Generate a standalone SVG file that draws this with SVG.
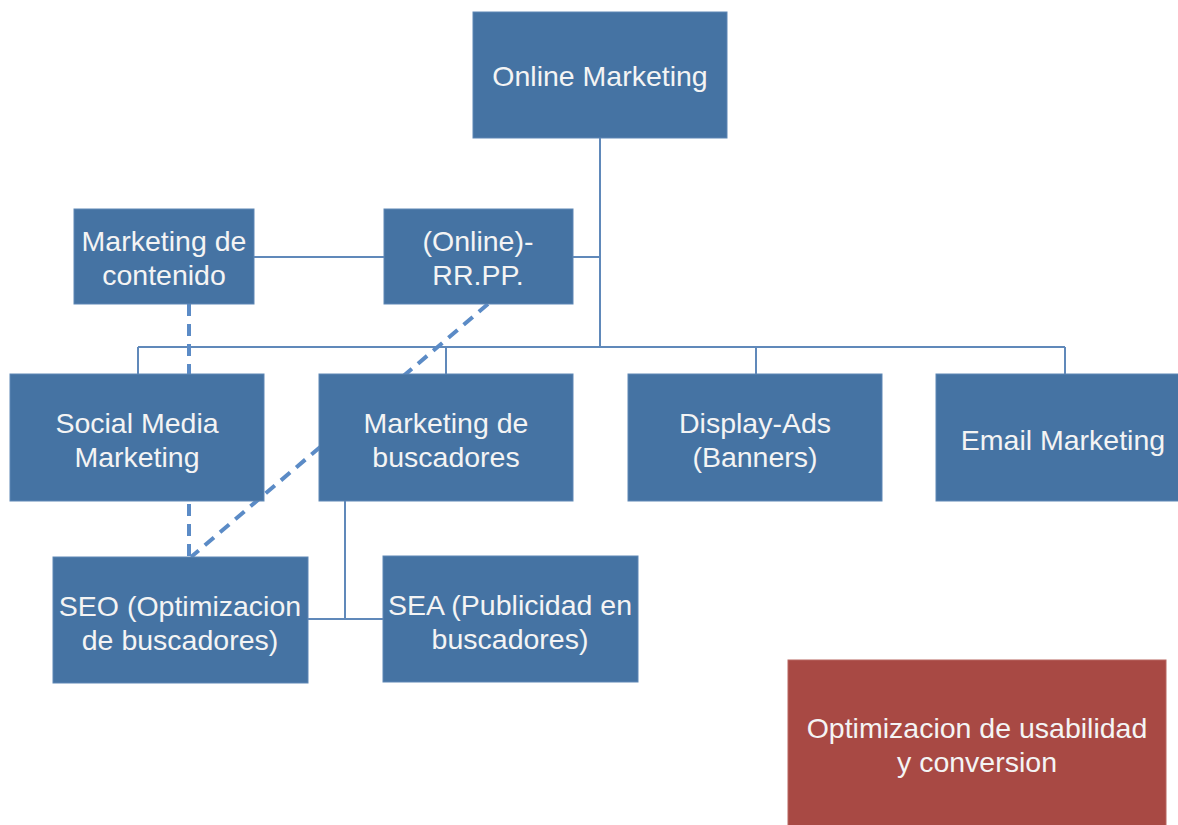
<svg xmlns="http://www.w3.org/2000/svg" width="1178" height="825" viewBox="0 0 1178 825">
<style>
.box{fill:#4573a3;stroke:#5e87b5;stroke-width:1}
.red{fill:#a84944;stroke:#b86661;stroke-width:1}
.t{font-family:"Liberation Sans",Arial,sans-serif;font-size:28.5px;fill:#f4f4f4;text-anchor:middle}
.ln{fill:none;stroke:#6089ba;stroke-width:2}
.dash{fill:none;stroke:#5b8bc6;stroke-width:4;stroke-dasharray:12 8}
</style>
<rect width="1178" height="825" fill="#ffffff"/>
<g id="connectors">
<path class="ln" d="M600,138 V347 M138,347 H1065 M138,347 V374 M446,347 V374 M756,347 V374 M1065,347 V374 M254,257 H384 M573,257 H600 M345,500 V619 M308,619 H383"/>
<path class="dash" d="M189,304 V557"/>
<path class="dash" d="M488,304 L191,557"/>
</g>
<g id="online-marketing"><rect class="box" x="473" y="12" width="254" height="126"/><text class="t" x="600" y="86">Online Marketing</text></g>
<g id="marketing-contenido"><rect class="box" x="74" y="209" width="180" height="95"/><text class="t" x="164" y="251">Marketing de</text><text class="t" x="164" y="285">contenido</text></g>
<g id="online-rrpp"><rect class="box" x="384" y="209" width="189" height="95"/><text class="t" x="478" y="251">(Online)-</text><text class="t" x="478" y="285">RR.PP.</text></g>
<g id="social-media"><rect class="box" x="10" y="374" width="254" height="127"/><text class="t" x="137" y="433">Social Media</text><text class="t" x="137" y="467">Marketing</text></g>
<g id="marketing-buscadores"><rect class="box" x="319" y="374" width="254" height="127"/><text class="t" x="446" y="433">Marketing de</text><text class="t" x="446" y="467">buscadores</text></g>
<g id="display-ads"><rect class="box" x="628" y="374" width="254" height="127"/><text class="t" x="755" y="433">Display-Ads</text><text class="t" x="755" y="467">(Banners)</text></g>
<g id="email-marketing"><rect class="box" x="936" y="374" width="254" height="127"/><text class="t" x="1063" y="450">Email Marketing</text></g>
<g id="seo"><rect class="box" x="53" y="557" width="255" height="126"/><text class="t" x="180" y="616">SEO (Optimizacion</text><text class="t" x="180" y="650">de buscadores)</text></g>
<g id="sea"><rect class="box" x="383" y="556" width="255" height="126"/><text class="t" x="510" y="615">SEA (Publicidad en</text><text class="t" x="510" y="649">buscadores)</text></g>
<g id="usabilidad"><rect class="red" x="788" y="660" width="378" height="180"/><text class="t" x="977" y="738">Optimizacion de usabilidad</text><text class="t" x="977" y="772">y conversion</text></g>
</svg>
